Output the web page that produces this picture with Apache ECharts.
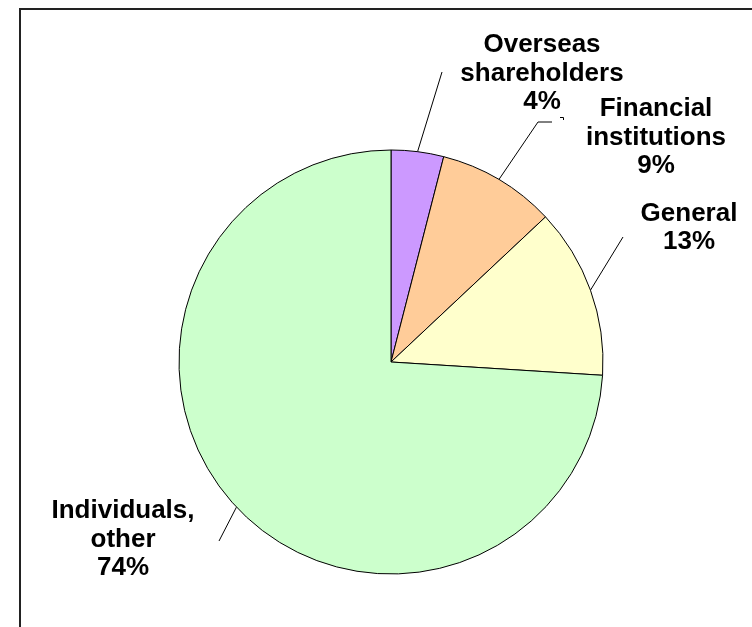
<!DOCTYPE html>
<html>
<head>
<meta charset="utf-8">
<script src="https://cdn.jsdelivr.net/npm/echarts@6/dist/echarts.min.js"></script>
<style>
  html, body { margin: 0; padding: 0; background: #fff; }
  #chart { width: 752px; height: 627px; }
</style>
</head>
<body>
<div id="chart"></div>
<script>
// Shareholder composition (percent of shares)
const categories = ['Overseas\nshareholders', 'Financial\ninstitutions', 'General', 'Individuals,\nother'];
const shares = [4, 9, 13, 74];
const sliceColors = ['#CC99FF', '#FFCC99', '#FFFFCC', '#CCFFCC'];

// Where each label block sits (centre x, centre y) and the bend/end of its leader line
const labelSpots = [
  { x: 542, y: 73.5, line: [[442, 72]] },
  { x: 656, y: 137.5, line: [[538, 122], [552, 122]] },
  { x: 689, y: 228, line: [[623, 237]] },
  { x: 123, y: 539.5, line: [[219, 541]] }
];

const chart = echarts.init(document.getElementById('chart'), null, { renderer: 'canvas' });

chart.setOption({
  backgroundColor: '#ffffff',
  animation: false,
  graphic: [{
    type: 'rect',
    shape: { x: 20, y: 9, width: 800, height: 700 },
    style: { fill: 'none', stroke: '#222', lineWidth: 2 },
    silent: true
  }, {
    // small corner tick at the end of the financial-institutions leader
    type: 'polyline',
    shape: { points: [[560, 117.5], [563.5, 117.5], [563.5, 120]] },
    style: { fill: 'none', stroke: '#000', lineWidth: 1 },
    silent: true
  }],
  series: [{
    type: 'pie',
    center: [391, 362],
    radius: 212,
    startAngle: 90,
    clockwise: true,
    avoidLabelOverlap: false,
    silent: true,
    data: categories.map((name, i) => ({
      name: name,
      value: shares[i],
      itemStyle: { color: sliceColors[i] }
    })),
    itemStyle: { borderColor: '#000', borderWidth: 1 },
    label: {
      show: true,
      position: 'outside',
      formatter: '{b}\n{c}%',
      fontFamily: '"Liberation Sans", Arial, sans-serif',
      fontWeight: 'bold',
      fontSize: 26,
      lineHeight: 28.5,
      color: '#000',
      align: 'center'
    },
    labelLine: {
      show: true,
      length: 20,
      length2: 10,
      lineStyle: { color: '#000', width: 1 }
    },
    labelLayout: function (params) {
      const spot = labelSpots[params.dataIndex];
      const start = params.labelLinePoints ? params.labelLinePoints[0] : null;
      const out = { x: spot.x, y: spot.y, align: 'center', verticalAlign: 'middle' };
      if (start) out.labelLinePoints = [start].concat(spot.line);
      return out;
    }
  }]
});
</script>
</body>
</html>
